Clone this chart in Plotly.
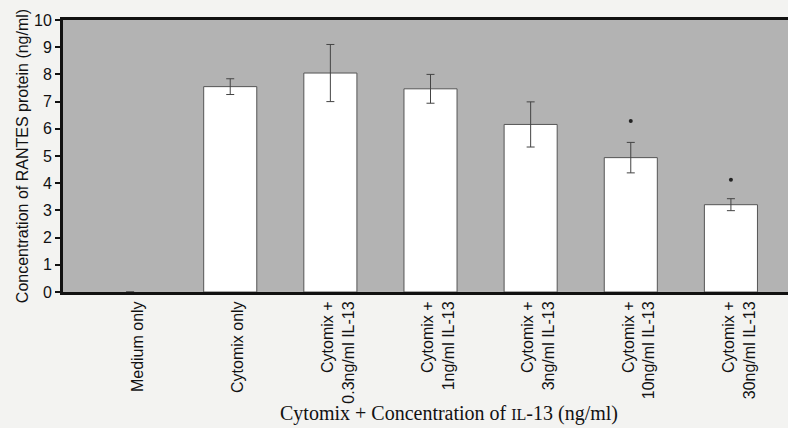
import plotly.graph_objects as go

categories = ["Medium only", "Cytomix only", "Cytomix +<br>0.3ng/ml IL-13", "Cytomix +<br>1ng/ml IL-13",
              "Cytomix +<br>3ng/ml IL-13", "Cytomix +<br>10ng/ml IL-13", "Cytomix +<br>30ng/ml IL-13"]
rantes = [0, 7.55, 8.05, 7.47, 6.16, 4.94, 3.21]
rantes_err = [None, 0.29, 1.05, 0.53, 0.83, 0.56, 0.22]
significance_y = [None, None, None, None, None, 6.29, 4.13]
y_ticks = [0, 1, 2, 3, 4, 5, 6, 7, 8, 9, 10]

fig = go.Figure()
fig.add_trace(go.Bar(
    x=categories, y=rantes,
    marker=dict(color="white", line=dict(color="#555555", width=[0, 1, 1, 1, 1, 1, 1])),
    error_y=dict(type="data", array=rantes_err, visible=True, color="#444444", thickness=1, width=4),
    showlegend=False,
))
fig.add_trace(go.Scatter(
    x=categories, y=significance_y, mode="markers",
    marker=dict(color="#222222", size=4),
    showlegend=False, cliponaxis=False,
))

fig.update_layout(
    width=788, height=428,
    margin=dict(l=63, r=0, t=20, b=136),
    paper_bgcolor="#f3f3f1",
    plot_bgcolor="#b3b3b3",
    bargap=0.47,
    font=dict(family="Liberation Sans, Arial, sans-serif", color="#111111"),
    xaxis=dict(
        range=[-0.67, 6.57], tickangle=-90, showline=True, linecolor="#111111", linewidth=3,
        mirror=True, ticks="", tickfont=dict(size=16), showgrid=False, ticklabelshift=8,
    ),
    yaxis=dict(
        range=[0, 10], tickvals=y_ticks, showline=True, linecolor="#111111", linewidth=3,
        ticks="outside", ticklen=5, tickwidth=1.5, tickcolor="#111111", tickfont=dict(size=16),
        showgrid=False, zeroline=False,
        title=dict(text="Concentration of RANTES protein (ng/ml)", font=dict(size=16), standoff=2),
    ),
    annotations=[dict(
        text="Cytomix + Concentration of <span style='font-size:16px'>IL</span>-13 (ng/ml)",
        x=0.532, y=-0.445, xref="paper", yref="paper", xanchor="center", yanchor="middle", showarrow=False,
        font=dict(family="Liberation Serif, Times New Roman, serif", size=20, color="#111111"),
    )],
)
fig.write_html("out.html", config={"displayModeBar": False},
               post_script="document.body.style.margin='0';document.body.style.background='#f3f3f1';")
